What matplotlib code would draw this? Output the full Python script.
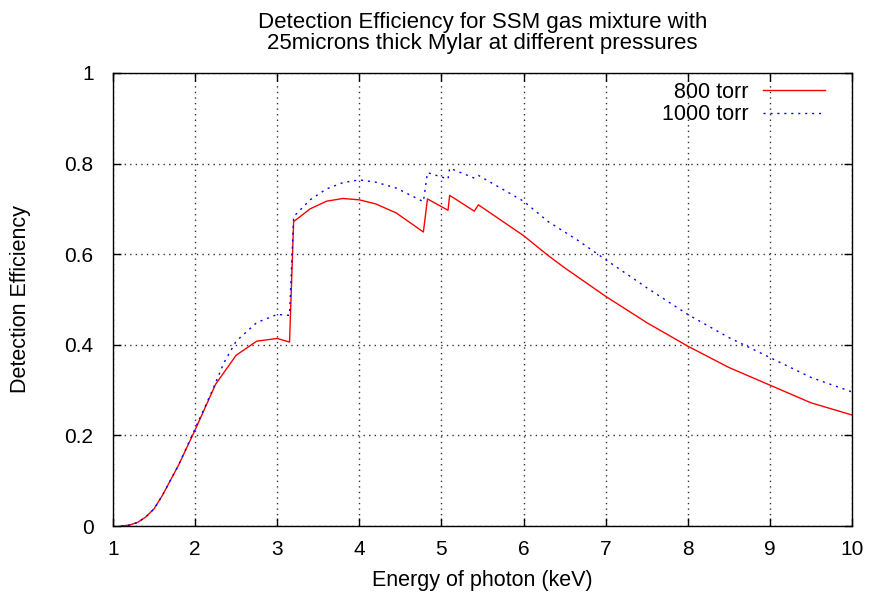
import matplotlib
matplotlib.use("Agg")
import matplotlib.pyplot as plt

e800 = [1.1, 1.2, 1.3, 1.4, 1.5, 1.6, 1.8, 2.0, 2.25, 2.5, 2.75, 3.0, 3.15, 3.2, 3.4, 3.6,
        3.8, 4.0, 4.2, 4.45, 4.78, 4.83, 5.08, 5.1, 5.4, 5.45, 6.0, 6.3, 6.5, 7.0,
        7.5, 8.0, 8.5, 9.0, 9.5, 10.0]
d800 = [0.0, 0.002, 0.008, 0.02, 0.038, 0.067, 0.135, 0.212, 0.313, 0.377, 0.408, 0.414, 0.406,
        0.672, 0.70, 0.717, 0.723, 0.72, 0.711, 0.691, 0.649, 0.722, 0.697, 0.730, 0.695, 0.709,
        0.641, 0.597, 0.570, 0.507, 0.449, 0.397, 0.35, 0.311, 0.272, 0.245]

e1000 = [1.1, 1.2, 1.3, 1.4, 1.5, 1.6, 1.8, 2.0, 2.2, 2.35, 2.5, 2.75, 3.0, 3.15, 3.2, 3.4,
         3.6, 3.8, 4.0, 4.2, 4.45, 4.78, 4.83, 5.08, 5.1, 5.4, 5.45, 6.0, 6.3, 6.65,
         7.0, 7.5, 8.0, 8.5, 9.0, 9.5, 10.0]
d1000 = [0.0, 0.002, 0.008, 0.02, 0.038, 0.067, 0.135, 0.215, 0.295, 0.36, 0.408, 0.449, 0.467,
         0.465, 0.683, 0.72, 0.744, 0.758, 0.764, 0.759, 0.746, 0.716, 0.780, 0.766, 0.790,
         0.768, 0.774, 0.717, 0.672, 0.632, 0.588, 0.526, 0.467, 0.416, 0.372, 0.328, 0.296]

xticks = [1, 2, 3, 4, 5, 6, 7, 8, 9, 10]
yticks = [0, 0.2, 0.4, 0.6, 0.8, 1]
ytick_labels = ["0", "0.2", "0.4", "0.6", "0.8", "1"]

plt.rcParams['font.family'] = ['Liberation Sans', 'DejaVu Sans']
W, H = 869, 595
fig = plt.figure(figsize=(W/100, H/100), dpi=100)
ax = fig.add_axes([113/W, 1 - 526/H, (852-113)/W, (526-73)/H])

ax.plot(e800, d800, color='#ff0000', lw=1.0, label='800 torr')
ax.plot(e1000, d1000, color='#0000ff', lw=1.0, linestyle=(0, (1.5, 3.5)), label='1000 torr')

ax.set_xlim(1, 10)
ax.set_ylim(0, 1)
ax.set_xticks(xticks)
ax.set_xticklabels([str(t) for t in xticks])
ax.set_yticks(yticks)
ax.set_yticklabels(ytick_labels)
ax.tick_params(direction='in', top=True, right=True, length=6, width=1, labelsize=15, pad=10)
ax.tick_params(axis='y', pad=14)
ax.grid(True, color='#333333', linestyle=(0, (1, 3)), linewidth=1.0)
for s in ax.spines.values():
    s.set_linewidth(1.0)

ax.set_xlabel('Energy of photon (keV)', fontsize=15.5, labelpad=8)
ax.set_ylabel('Detection Efficiency', fontsize=15.5, labelpad=24)
ax.set_title('Detection Efficiency for SSM gas mixture with\n25microns thick Mylar at different pressures',
             fontsize=16, pad=17, linespacing=1.0)

leg = ax.legend(loc='upper right', frameon=False, markerfirst=False, fontsize=15.5,
                handlelength=2.9, borderaxespad=0, borderpad=0, labelspacing=0.05,
                handletextpad=0.65, bbox_to_anchor=(825/W, 1 - 82/H),
                bbox_transform=fig.transFigure)
for t in leg.get_texts():
    t.set_ha('right')

fig.savefig('out.png', dpi=100)
